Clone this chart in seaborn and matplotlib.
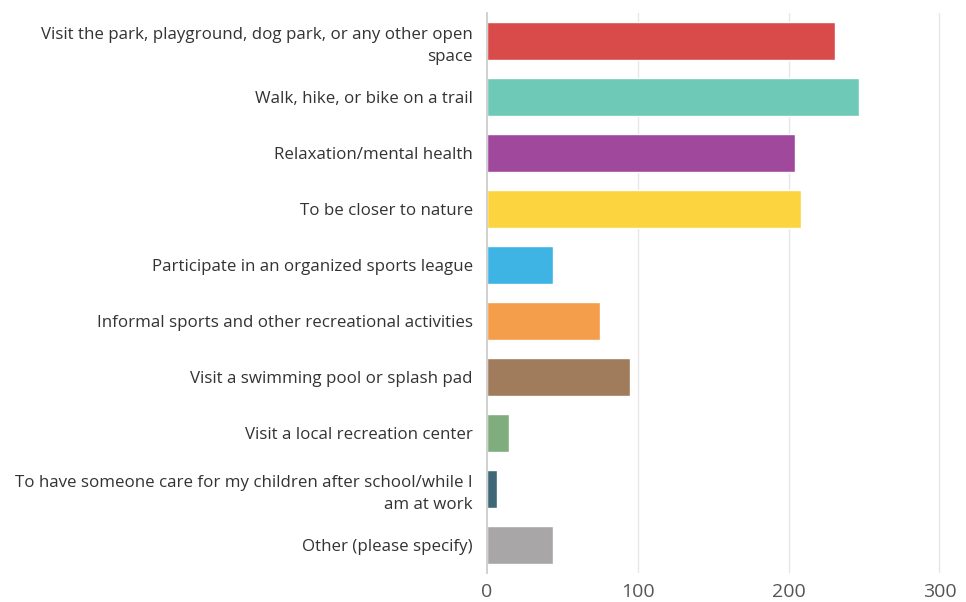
import matplotlib
matplotlib.use("Agg")
import matplotlib.pyplot as plt
import seaborn as sns
import pandas as pd

categories = [
    "Visit the park, playground, dog park, or any other open\nspace",
    "Walk, hike, or bike on a trail",
    "Relaxation/mental health",
    "To be closer to nature",
    "Participate in an organized sports league",
    "Informal sports and other recreational activities",
    "Visit a swimming pool or splash pad",
    "Visit a local recreation center",
    "To have someone care for my children after school/while I\nam at work",
    "Other (please specify)",
]
counts = [231, 247, 204, 208, 44, 75, 95, 15, 7, 44]
colors = ["#D94B4B", "#6FC9B7", "#A0489B", "#FCD440", "#3DB4E4",
          "#F49D4A", "#A07C5C", "#80AD7E", "#3E6878", "#A8A6A6"]
x_ticks = [0, 100, 200, 300]

df = pd.DataFrame({"category": categories, "count": counts})

sns.set_theme(style="white")
plt.rcParams["font.family"] = ["Open Sans", "DejaVu Sans"]

fig = plt.figure(figsize=(9.66, 6.02), dpi=100)
ax = fig.add_axes([0.504, 0.048, 0.470, 0.930])

sns.barplot(data=df, x="count", y="category", hue="category",
            palette=colors, legend=False, width=0.68, ax=ax,
            saturation=1.0, orient="h")

ax.set_xlim(0, 301)
ax.set_ylim(len(categories) - 0.5, -0.5)
ax.set_xticks(x_ticks)
ax.set_xticklabels([str(t) for t in x_ticks])
ax.set_xlabel("")
ax.set_ylabel("")

for t in x_ticks[1:]:
    ax.axvline(t, color="#E6E6E6", linewidth=1.0, zorder=0)

for side in ["top", "right", "bottom"]:
    ax.spines[side].set_visible(False)
ax.spines["left"].set_color("#C8C8C8")
ax.spines["left"].set_linewidth(1.2)

ax.tick_params(axis="y", length=0, pad=10, labelsize=12.2, labelcolor="#333333")
ax.tick_params(axis="x", length=0, pad=7, labelsize=14, labelcolor="#555555")
for lbl in ax.get_yticklabels():
    lbl.set_horizontalalignment("right")
    lbl.set_multialignment("right")
    lbl.set_linespacing(1.45)

fig.savefig("out.png", dpi=100, facecolor="white")
